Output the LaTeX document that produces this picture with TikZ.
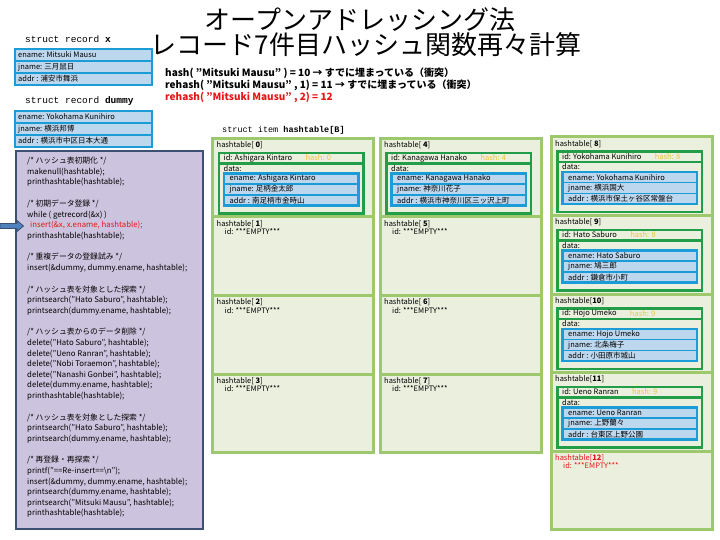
\documentclass[tikz,border=0pt]{standalone}
\usepackage{fontspec}
\setmainfont{Noto Sans CJK JP}
\setmonofont{Liberation Mono}
\usetikzlibrary{positioning}
\definecolor{HT-GREEN}{RGB}{157,200,107}
\definecolor{HT-BG}{RGB}{235,240,222}
\definecolor{HT-DKGREEN}{RGB}{34,158,72}
\definecolor{HT-BLUE}{RGB}{28,156,214}
\definecolor{HT-LTBLUE}{RGB}{189,215,238}
\definecolor{HT-GOLD}{RGB}{240,192,60}
\definecolor{HT-RED}{RGB}{230,20,20}
\definecolor{CODE-BG}{RGB}{204,196,222}
\definecolor{CODE-LINE}{RGB}{60,80,115}
\definecolor{PTR-BLUE}{RGB}{79,129,189}

\tikzset{
  cellbox/.style={fill=HT-BG, draw=HT-GREEN, line width=3pt},
  itembox/.style={draw=HT-DKGREEN, line width=2.5pt},
  databox/.style={fill=HT-LTBLUE, draw=HT-BLUE, line width=2.5pt},
  rowline/.style={draw=HT-BLUE, line width=1.5pt},
  celltext/.style={anchor=west, inner sep=0pt, font=\fontsize{7.5}{8}\selectfont},
  rectext/.style={anchor=west, inner sep=0pt, font=\fontsize{7.5}{9}\selectfont},
  monotext/.style={anchor=west, inner sep=0pt, font=\ttfamily\fontsize{9.5}{11}\selectfont},
  hashtext/.style={anchor=west, inner sep=0pt, font=\bfseries\fontsize{10}{11}\selectfont},
}

% record (x, dummy): three rows
\newcommand{\recbox}[5]{%
  \draw[databox] (15,#1) rectangle (152,#1+36);
  \draw[rowline] (15,#1+12) -- (152,#1+12) (15,#1+24) -- (152,#1+24);
  \node[rectext] (#2en) at (18,#1+6) {ename: #3};
  \node[rectext] (#2jn) at (18,#1+18) {jname: #4};
  \node[rectext] (#2ad) at (18,#1+30) {addr\ : #5};
}

% filled hashtable cell: x, y, index, ename, hash, jname, addr
\newcommand{\htfull}[7]{%
  \draw[cellbox] (#1,#2) rectangle ++(161,78.5);
  \node[celltext] (lab#3) at (#1+4,#2+7) {hashtable[\ifnum#3<10\ \fi\textbf{#3}]};
  \draw[itembox] (#1+6.5,#2+14.5) rectangle (#1+151,#2+75);
  \draw[itembox] (#1+6.5,#2+25) -- (#1+151,#2+25);
  \node[celltext] (id#3) at (#1+11,#2+19.5) {id: #4};
  \node[celltext, text=HT-GOLD, right=13pt of id#3] (hash#3) {hash: #5};
  \node[celltext] (data#3) at (#1+11,#2+30) {data:};
  \draw[databox] (#1+11.5,#2+35) rectangle (#1+146,#2+67);
  \draw[rowline] (#1+11.5,#2+45.7) -- (#1+146,#2+45.7) (#1+11.5,#2+56.3) -- (#1+146,#2+56.3);
  \node[celltext] (en#3) at (#1+17,#2+40.3) {ename: #4};
  \node[celltext] (jn#3) at (#1+17,#2+51) {jname: #6};
  \node[celltext] (ad#3) at (#1+17,#2+61.7) {addr\ : #7};
}

% empty hashtable cell: x, y, index, colour
\newcommand{\htempty}[4]{%
  \draw[cellbox] (#1,#2) rectangle ++(161,78.5);
  \node[celltext, text=#4] (lab#3) at (#1+4,#2+7) {hashtable[\ifnum#3<10\ \fi\textbf{#3}]};
  \node[celltext, text=#4] (id#3) at (#1+12,#2+15) {id: ***EMPTY***};
}

\begin{document}
\begin{tikzpicture}[x=1pt, y=-1pt]
  \useasboundingbox (0,0) rectangle (720,540);

  % Title
  \node[font=\fontsize{26}{28}\selectfont] (title1) at (360,20) {オープンアドレッシング法};
  \node[font=\fontsize{26}{28}\selectfont] (title2) at (366,45) {レコード7件目ハッシュ関数再々計算};

  % Records x and dummy
  \node[monotext] (recx) at (25,39) {struct record \textbf{x}};
  \recbox{49}{x}{Mitsuki Mausu}{三月鼠日}{浦安市舞浜}
  \node[monotext] (recdummy) at (25,101) {struct record \textbf{dummy}};
  \recbox{111}{dummy}{Yokohama Kunihiro}{横浜邦博}{横浜市中区日本大通}

  % Hash calculation
  \node[hashtext] (hash1) at (165,73) {hash( "Mitsuki Mausu" ) = 10 → すでに埋まっている（衝突）};
  \node[hashtext] (hash2) at (165,85) {rehash( "Mitsuki Mausu" , 1) = 11 → すでに埋まっている（衝突）};
  \node[hashtext, text=HT-RED] (hash3) at (165,97) {rehash( "Mitsuki Mausu" , 2) = 12};

  % Program
  \draw[fill=CODE-BG, draw=CODE-LINE, line width=2pt] (16,151) rectangle (203,529);
  \node[anchor=north west, inner sep=0pt, align=left, font=\fontsize{7.8}{10.6}\selectfont] (code) at (27,157) {%
    /* ハッシュ表初期化 */\\
    makenull(hashtable);\\
    printhashtable(hashtable);\\[11pt]
    /* 初期データ登録 */\\
    while ( getrecord(\&x) )\\
    {\color{HT-RED}\hspace*{3pt}insert(\&x, x.ename, hashtable);}\\
    printhashtable(hashtable);\\[11pt]
    /* 重複データの登録試み */\\
    insert(\&dummy, dummy.ename, hashtable);\\[11pt]
    /* ハッシュ表を対象とした探索 */\\
    printsearch("Hato Saburo", hashtable);\\
    printsearch(dummy.ename, hashtable);\\[11pt]
    /* ハッシュ表からのデータ削除 */\\
    delete("Hato Saburo", hashtable);\\
    delete("Ueno Ranran", hashtable);\\
    delete("Nobi Toraemon", hashtable);\\
    delete("Nanashi Gonbei", hashtable);\\
    delete(dummy.ename, hashtable);\\
    printhashtable(hashtable);\\[11pt]
    /* ハッシュ表を対象とした探索 */\\
    printsearch("Hato Saburo", hashtable);\\
    printsearch(dummy.ename, hashtable);\\[11pt]
    /* 再登録・再探索 */\\
    printf("==Re-insert==\textbackslash n");\\
    insert(\&dummy, dummy.ename, hashtable);\\
    printsearch(dummy.ename, hashtable);\\
    printsearch("Mitsuki Mausu", hashtable);\\
    printhashtable(hashtable);};

  % Pointer to the current line
  \filldraw[fill=PTR-BLUE, draw=CODE-LINE, line width=0.8pt]
    (0,223.5) -- (17,223.5) -- (17,220.5) -- (23.5,226) -- (17,231.5) -- (17,228.5) -- (0,228.5) -- cycle;

  % Hash table
  \node[monotext, font=\ttfamily\fontsize{8.5}{10}\selectfont] (table) at (222,130) {struct item \textbf{hashtable[B]}};
  \htfull{212.5}{138.5}{0}{Ashigara Kintaro}{0}{足柄金太郎}{南足柄市金時山}
  \htempty{212.5}{217}{1}{black}
  \htempty{212.5}{295.5}{2}{black}
  \htempty{212.5}{374}{3}{black}
  \htfull{380}{138.5}{4}{Kanagawa Hanako}{4}{神奈川花子}{横浜市神奈川区三ッ沢上町}
  \htempty{380}{217}{5}{black}
  \htempty{380}{295.5}{6}{black}
  \htempty{380}{374}{7}{black}
  \htfull{551}{137}{8}{Yokohama Kunihiro}{8}{横浜国大}{横浜市保土ヶ谷区常盤台}
  \htfull{551}{215.5}{9}{Hato Saburo}{8}{鳩三郎}{鎌倉市小町}
  \htfull{551}{294}{10}{Hojo Umeko}{9}{北条梅子}{小田原市城山}
  \htfull{551}{372.5}{11}{Ueno Ranran}{9}{上野蘭々}{台東区上野公園}
  \htempty{551}{451}{12}{HT-RED}
\end{tikzpicture}
\end{document}
